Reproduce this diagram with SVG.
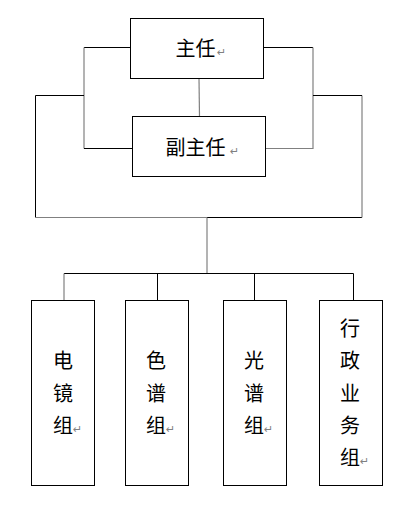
<svg xmlns="http://www.w3.org/2000/svg" width="415" height="519" viewBox="0 0 415 519">
<style>
.box{fill:#fff;stroke:#000;stroke-width:1}
.ln{fill:none;stroke:#000;stroke-width:1}
.gl{fill:none;stroke:#808080;stroke-width:1.2}
.t{font-family:"Noto Sans CJK SC","Noto Sans",sans-serif;font-size:20px;fill:#000}
.pm{font-family:"DejaVu Sans",sans-serif;font-size:11px;fill:#808080}
</style>
<rect width="415" height="519" fill="#fff"/>
<g id="connectors">
<polyline class="ln" points="130,47.5 84,47.5"/>
<polyline class="gl" points="84,47.5 84,148.5"/>
<polyline class="ln" points="84,148.5 132,148.5"/>
<polyline class="ln" points="264,47.5 313,47.5"/>
<polyline class="gl" points="313,47.5 313,148.5 266,148.5"/>
<line class="gl" x1="199" y1="78.5" x2="199.5" y2="116.5"/>
<polyline class="ln" points="84,95.5 35.5,95.5 35.5,217.5"/>
<polyline class="gl" points="35.5,217.5 207,217.5"/>
<polyline class="ln" points="207,217.5 362,217.5"/>
<polyline class="gl" points="362,217.5 362,95.5"/>
<polyline class="ln" points="362,95.5 313,95.5"/>
<line class="gl" x1="207" y1="217.5" x2="207" y2="273.5"/>
<polyline class="ln" points="64,273.5 353.5,273.5"/>
<line class="gl" x1="64" y1="273.5" x2="64" y2="300.5"/>
<line class="ln" x1="157.5" y1="273.5" x2="157.5" y2="300.5"/>
<line class="ln" x1="254.5" y1="273.5" x2="254.5" y2="300.5"/>
<line class="ln" x1="353.5" y1="273.5" x2="353.5" y2="300.5"/>
</g>
<g id="director">
<rect class="box" x="130.5" y="18.5" width="133" height="60"/>
<text class="t" x="175.5" y="56" font-size="21">主任</text>
<text class="pm" x="217" y="56">↵</text>
</g>
<g id="deputy">
<rect class="box" x="132.5" y="116.5" width="133" height="60"/>
<text class="t" x="165.5" y="155" font-size="21">副主任</text>
<text class="pm" x="230" y="155">↵</text>
</g>
<g id="em-group">
<rect class="box" x="31.5" y="300.5" width="63" height="185"/>
<text class="t" x="53" y="368">电</text>
<text class="t" x="53" y="400.5">镜</text>
<text class="t" x="53" y="433">组</text>
<text class="pm" x="73" y="433">↵</text>
</g>
<g id="chromatography-group">
<rect class="box" x="125.5" y="300.5" width="63" height="185"/>
<text class="t" x="146" y="368">色</text>
<text class="t" x="146" y="400.5">谱</text>
<text class="t" x="146" y="433">组</text>
<text class="pm" x="166" y="433">↵</text>
</g>
<g id="spectroscopy-group">
<rect class="box" x="223.5" y="300.5" width="63" height="185"/>
<text class="t" x="244" y="368">光</text>
<text class="t" x="244" y="400.5">谱</text>
<text class="t" x="244" y="433">组</text>
<text class="pm" x="264" y="433">↵</text>
</g>
<g id="admin-group">
<rect class="box" x="319.5" y="300.5" width="63" height="185"/>
<text class="t" x="340" y="335.5">行</text>
<text class="t" x="340" y="368">政</text>
<text class="t" x="340" y="400.5">业</text>
<text class="t" x="340" y="433">务</text>
<text class="t" x="340" y="465">组</text>
<text class="pm" x="360" y="465">↵</text>
</g>
</svg>
